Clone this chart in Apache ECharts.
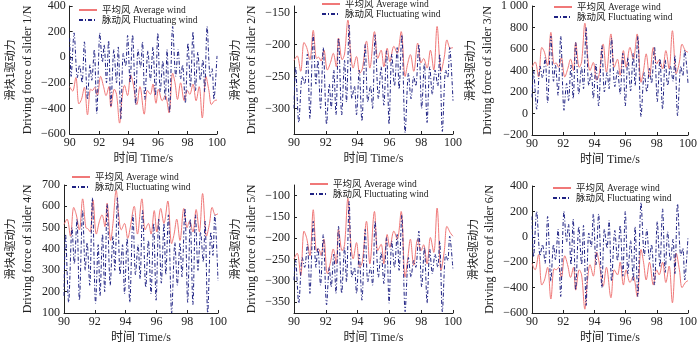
<!DOCTYPE html>
<html><head><meta charset="utf-8">
<script src="https://cdn.jsdelivr.net/npm/echarts@6/dist/echarts.min.js"></script>
<style>html,body{margin:0;padding:0;background:#fff}#c{width:700px;height:345px}</style>
</head><body><div id="c"></div>
<script>
// ---- data ----
const legendNames = ['平均风 Average wind', '脉动风 Fluctuating wind'];
const xName = '时间 Time/s';
const yNamesCn = ['滑块1驱动力', '滑块2驱动力', '滑块3驱动力', '滑块4驱动力', '滑块5驱动力', '滑块6驱动力'];
const yNamesEn = ['Driving force of slider 1/N', 'Driving force of slider 2/N', 'Driving force of slider 3/N',
                  'Driving force of slider 4/N', 'Driving force of slider 5/N', 'Driving force of slider 6/N'];

// time stamps (s) of the read-off points
const tRed = [90, 90.2, 90.42, 90.63, 90.8, 91.0, 91.21, 91.42, 91.55, 91.7, 91.88, 92.1, 92.3, 92.47, 92.66, 92.8, 93.03, 93.18, 93.39, 93.55, 93.72, 93.93, 94.14, 94.3, 94.56, 94.77, 95.06, 95.27, 95.48, 95.65, 95.86, 96.03, 96.28, 96.49, 96.74, 96.99, 97.15, 97.32, 97.53, 97.78, 97.99, 98.15, 98.37, 98.58, 98.79, 99.0, 99.25, 99.45, 99.62, 99.83, 100];
const tBlue = [90, 90.1, 90.3, 90.52, 90.67, 90.84, 91.0, 91.21, 91.38, 91.5, 91.67, 91.84, 92.05, 92.22, 92.34, 92.5, 92.64, 92.8, 93.0, 93.18, 93.3, 93.47, 93.64, 93.8, 93.93, 94.1, 94.27, 94.48, 94.64, 94.81, 94.94, 95.1, 95.31, 95.48, 95.65, 95.82, 95.98, 96.15, 96.32, 96.49, 96.61, 96.78, 96.99, 97.2, 97.36, 97.53, 97.66, 97.85, 98.03, 98.2, 98.37, 98.54, 98.7, 98.87, 99.04, 99.16, 99.33, 99.54, 99.67, 99.79, 100];

// slider 1
const avg1 = [-230, -265, -160, -365, -330, -235, -450, -250, -260, -235, -300, -150, -230, -300, -230, -390, -250, -290, -515, -330, -220, -300, -140, -200, -370, -230, -445, -260, -290, -210, -360, -250, -340, -300, -435, -125, -200, -330, -200, -340, -260, -290, -210, -340, -230, -475, -150, -260, -370, -340, -335];
const fluc1 = [150, -150, 190, -160, -60, -200, 120, -330, -60, -180, 60, -440, 190, -40, 100, -200, 130, -380, 60, -200, 80, -480, 30, -70, 170, -200, 175, -370, 60, -80, 120, -330, 50, -180, 80, -300, 190, -270, -30, -330, 60, -430, 240, -150, 60, -170, -60, -360, 110, -230, 200, -260, 40, -180, -20, -270, 240, -150, -90, -330, 10];
// slider 2
const avg2 = [-225, -218, -242, -197, -205, -224, -178, -222, -220, -226, -209, -240, -228, -214, -235, -190, -224, -215, -162, -210, -237, -219, -245, -238, -195, -237, -180, -222, -209, -235, -206, -227, -203, -214, -180, -250, -230, -216, -242, -198, -229, -222, -237, -209, -240, -172, -242, -220, -193, -206, -205];
const fluc2 = [-300, -235, -322, -250, -262, -215, -316, -185, -262, -225, -300, -205, -325, -262, -300, -240, -310, -190, -310, -225, -290, -170, -285, -265, -310, -240, -320, -200, -290, -265, -300, -185, -285, -235, -295, -210, -325, -215, -265, -205, -270, -185, -338, -245, -285, -250, -265, -200, -300, -230, -322, -235, -278, -240, -265, -215, -336, -240, -252, -205, -288];
// slider 3
const avg3 = [430, 480, 340, 615, 570, 445, 755, 460, 470, 430, 520, 340, 420, 505, 400, 660, 430, 480, 840, 560, 400, 475, 310, 360, 645, 385, 740, 430, 505, 355, 585, 430, 615, 505, 740, 290, 400, 555, 340, 615, 460, 500, 415, 585, 415, 770, 370, 480, 645, 585, 570];
const fluc3 = [150, 400, 40, 440, 330, 520, 100, 720, 300, 450, 170, 720, 30, 280, 120, 450, 140, 660, 180, 430, 230, 800, 260, 380, 140, 460, 70, 630, 200, 380, 230, 700, 250, 400, 180, 560, 70, 520, 210, 560, 260, 720, -30, 380, 200, 420, 280, 620, 110, 510, 40, 500, 260, 440, 300, 540, -20, 440, 350, 590, 280];
// slider 4
const avg4 = [515, 540, 460, 595, 560, 490, 635, 500, 495, 480, 630, 470, 530, 560, 505, 615, 440, 520, 675, 560, 490, 520, 450, 500, 600, 470, 635, 490, 520, 470, 580, 480, 590, 520, 625, 425, 470, 540, 440, 590, 500, 530, 480, 585, 480, 660, 460, 520, 595, 560, 565];
const fluc4 = [180, 470, 150, 500, 330, 540, 160, 580, 300, 430, 230, 640, 145, 420, 180, 470, 200, 610, 230, 460, 300, 640, 280, 420, 190, 450, 150, 560, 280, 420, 260, 580, 220, 440, 190, 520, 160, 540, 240, 520, 280, 560, 100, 430, 230, 430, 270, 590, 150, 540, 140, 560, 300, 480, 340, 530, 100, 480, 370, 560, 250];
// slider 5
const avg5 = [-248, -235, -287, -183, -200, -241, -133, -229, -225, -240, -202, -283, -255, -225, -260, -179, -229, -215, -106, -200, -248, -210, -268, -255, -160, -260, -137, -229, -214, -260, -191, -221, -183, -202, -137, -291, -250, -202, -263, -202, -229, -215, -260, -198, -233, -129, -275, -230, -172, -187, -195];
const fluc5 = [-298, -252, -352, -245, -268, -214, -329, -160, -268, -222, -310, -191, -356, -268, -314, -237, -329, -172, -329, -222, -302, -114, -291, -268, -329, -237, -345, -179, -302, -268, -310, -160, -291, -233, -306, -198, -352, -206, -268, -191, -275, -145, -372, -245, -291, -252, -268, -183, -314, -222, -352, -225, -283, -237, -268, -206, -372, -237, -252, -195, -275];
// slider 6
const avg6 = [-210, -260, -140, -380, -340, -240, -490, -250, -260, -240, -320, -150, -230, -320, -240, -420, -260, -300, -570, -350, -220, -310, -120, -200, -390, -240, -480, -260, -300, -200, -380, -260, -360, -310, -470, -100, -200, -340, -200, -380, -260, -300, -200, -360, -230, -520, -130, -260, -400, -360, -345];
const fluc6 = [160, -160, 200, -150, -60, -210, 160, -350, -60, -180, 60, -470, 200, -40, 100, -220, 140, -420, 80, -220, 90, -540, 30, -80, 180, -220, 180, -400, 60, -90, 130, -350, 50, -190, 90, -310, 200, -290, -30, -350, 80, -470, 270, -150, 60, -180, -60, -380, 120, -240, 220, -280, 40, -190, -20, -290, 260, -150, -90, -340, 0];

// y-axis scales
const yMin = [-600, -340, -200, 100, -375, -600];
const yMax = [400, -140, 1000, 700, -75, 400];
const yStep = [200, 50, 200, 100, 50, 200];
const yTicks2 = [-300, -250, -200, -150];
const yTicks5 = [-350, -300, -250, -200, -150, -100];

const avgAll = [avg1, avg2, avg3, avg4, avg5, avg6];
const flucAll = [fluc1, fluc2, fluc3, fluc4, fluc5, fluc6];

// ---- layout ----
const grids = [
  {left: 59, top: 6, width: 158, height: 128},
  {left: 294, top: 6, width: 159, height: 128},
  {left: 532, top: 6, width: 158, height: 129},
  {left: 59, top: 185, width: 159, height: 130},
  {left: 294, top: 185, width: 159, height: 130},
  {left: 532, top: 186, width: 158, height: 129}
];
const legendPos = [
  {left: 78, top: 5}, {left: 321, top: -1}, {left: 553, top: 2},
  {left: 71, top: 172}, {left: 309, top: 179}, {left: 552, top: 183}
];

const FONT = "'Liberation Serif','Noto Sans CJK SC',serif";
const RED = '#F07878';
const BLUE = '#1F2283';

function fmt(v) {
  if (v === 1000) return '1 000';
  return (v < 0 ? '\u2212' : '') + Math.abs(v);
}

const pair = (t, v) => t.map((x, i) => [x, v[i]]);

const option = {
  animation: false,
  backgroundColor: '#fff',
  grid: grids.map(g => Object.assign({containLabel: false}, g)),
  legend: legendPos.map(p => ({
    left: p.left, top: p.top, orient: 'vertical',
    data: legendNames, itemWidth: 18, itemHeight: 10, itemGap: 0, padding: 0,
    itemStyle: {opacity: 0},
    textStyle: {fontFamily: FONT, fontSize: 9.5, color: '#222', lineHeight: 10}
  })),
  xAxis: grids.map((g, i) => ({
    gridIndex: i, type: 'value', min: 90, max: 100, interval: 2,
    name: xName, nameLocation: 'middle', nameGap: 19,
    nameTextStyle: {fontFamily: FONT, fontSize: 12, color: '#222'},
    axisLine: {onZero: false, lineStyle: {color: '#222', width: 1}},
    axisTick: {inside: true, length: 3, lineStyle: {color: '#222'}},
    axisLabel: {fontFamily: FONT, fontSize: 12, color: '#222', margin: 3},
    splitLine: {show: false}
  })),
  yAxis: grids.map((g, i) => {
    const ax = {
      gridIndex: i, type: 'value', min: yMin[i], max: yMax[i],
      name: '{cn|' + yNamesCn[i] + '}\n{en|' + yNamesEn[i] + '}',
      nameLocation: 'middle', nameRotate: 90, nameGap: 27,
      nameTextStyle: {
        fontFamily: FONT, color: '#222', lineHeight: 18, align: 'center',
        rich: {
          cn: {fontFamily: "'Noto Sans CJK SC',sans-serif", fontSize: 11, lineHeight: 18, color: '#222'},
          en: {fontFamily: FONT, fontSize: 12, lineHeight: 18, color: '#222'}
        }
      },
      axisLine: {show: true, onZero: false, lineStyle: {color: '#222', width: 1}},
      axisTick: {show: true, inside: true, length: 3, lineStyle: {color: '#222'}},
      axisLabel: {fontFamily: FONT, fontSize: 12, color: '#222', margin: 4, formatter: fmt},
      splitLine: {show: false}
    };
    if (i === 1 || i === 4) {
      const cv = i === 1 ? yTicks2 : yTicks5;
      ax.axisLabel.customValues = cv;
      ax.axisTick.customValues = cv;
    } else {
      ax.interval = yStep[i];
    }
    return ax;
  }),
  series: []
};

for (let i = 0; i < 6; i++) {
  option.series.push({
    name: legendNames[0], type: 'line', xAxisIndex: i, yAxisIndex: i,
    data: pair(tRed, avgAll[i]), showSymbol: false, symbol: 'none', smooth: 0.35,
    lineStyle: {color: RED, width: 1}, itemStyle: {color: RED}, z: 2
  });
  option.series.push({
    name: legendNames[1], type: 'line', xAxisIndex: i, yAxisIndex: i,
    data: pair(tBlue, flucAll[i]), showSymbol: false, symbol: 'none', smooth: 0.3,
    lineStyle: {color: BLUE, width: 1, type: [4, 2, 1, 2]}, itemStyle: {color: BLUE}, z: 3
  });
}

const chart = echarts.init(document.getElementById('c'), null, {renderer: 'canvas'});
chart.setOption(option);
</script></body></html>
